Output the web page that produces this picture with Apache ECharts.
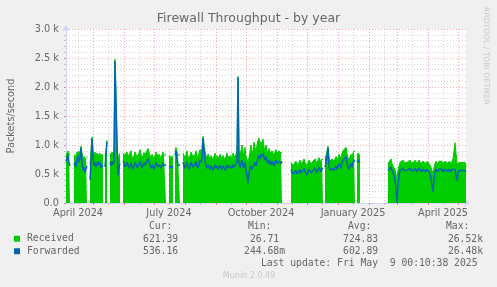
<!DOCTYPE html>
<html><head><meta charset="utf-8">
<script src="https://cdn.jsdelivr.net/npm/echarts@6.0.0/dist/echarts.min.js"></script>
<style>html,body{margin:0;padding:0;background:#F0F0F0}#c{width:497px;height:287px}</style>
</head><body><div id="c"></div>
<script>
// ---- data (one value per day, starting 2024-04-04; null = no data) ----
const startDate = [2024, 3, 4];
const dayCount = 401;
const seriesNames = ['Received', 'Forwarded'];

const received = [
 820,860,900,850,820,null,null,null,840,860,
 800,880,900,860,880,980,860,760,800,720,
 780,800,null,null,650,900,1140,900,820,880,
 800,860,880,820,860,780,840,800,null,800,
 900,1080,null,null,860,820,880,840,900,2480,
 2500,1100,700,820,860,null,null,860,820,790,
 840,880,800,780,830,900,800,760,820,880,
 840,790,820,860,920,840,780,820,870,830,
 800,860,940,880,820,780,840,800,760,820,
 880,860,800,840,820,780,830,880,820,800,
 840,null,null,820,800,840,780,820,null,900,
 960,880,820,800,840,null,null,860,820,780,
 840,900,800,760,820,880,860,800,780,840,
 900,820,780,860,920,880,940,1150,1140,900,
 820,780,840,800,760,820,780,740,800,860,
 780,820,760,780,840,800,760,820,780,740,
 800,860,780,760,820,800,780,860,800,780,
 840,900,2180,900,820,900,1000,880,840,960,
 800,760,700,780,880,1000,860,900,1050,960,
 880,1000,1080,1120,980,1060,1000,1100,960,920,
 1000,900,860,940,880,840,900,860,820,880,
 920,860,840,900,880,860,880,null,null,null,
 null,null,null,null,null,700,680,650,640,680,
 720,660,640,700,740,680,660,720,760,700,
 680,640,700,740,720,680,660,720,700,760,
 720,680,740,780,740,700,760,740,null,760,
 820,900,980,800,720,700,760,740,720,760,
 800,740,780,840,800,760,860,900,880,920,
 960,860,780,740,800,840,780,860,900,880,
 null,820,860,840,820,null,null,null,null,null,
 null,null,null,null,null,null,null,null,null,null,
 null,null,null,null,null,null,null,null,null,null,
 null,null,680,660,700,760,680,640,620,580,
 500,400,560,640,700,680,720,740,700,680,
 720,700,680,720,740,700,680,720,700,740,
 720,680,700,740,720,680,700,720,740,700,
 680,720,700,680,660,620,560,520,600,680,
 720,700,680,720,700,740,720,680,700,720,
 740,700,680,720,700,680,720,760,900,1040,
 860,700,660,700,720,680,700,720,680,700,
 621.39
];

const forwarded = [
 720,780,830,700,640,null,null,null,650,700,
 620,760,820,700,760,950,700,560,620,520,
 600,640,null,null,400,700,1110,800,640,700,
 620,680,720,650,700,600,660,620,null,620,
 850,1060,null,null,700,640,720,660,720,2450,
 2480,1000,480,620,680,null,null,720,680,620,
 660,700,640,600,650,690,620,580,640,700,
 660,610,640,680,720,660,600,640,690,650,
 620,680,760,700,640,600,660,620,580,640,
 700,680,620,660,640,600,650,690,640,620,
 660,null,null,640,620,660,600,640,null,820,
 900,760,640,620,660,null,null,700,640,600,
 660,720,620,580,640,700,680,620,600,660,
 720,640,600,680,740,700,760,1120,1100,720,
 640,600,660,620,580,640,600,560,620,660,
 600,640,580,600,650,620,580,640,600,560,
 620,660,600,580,640,620,600,660,620,600,
 640,700,2170,700,600,680,740,640,600,700,
 560,480,340,520,600,640,580,620,660,700,
 640,720,780,820,760,840,800,860,780,740,
 800,720,680,740,700,660,720,680,640,700,
 740,680,660,720,700,680,720,null,null,null,
 null,null,null,null,null,580,540,500,480,520,
 560,500,480,540,580,520,500,560,600,540,
 520,480,540,580,560,520,500,560,540,600,
 560,520,580,620,580,540,600,580,null,620,
 700,800,950,640,560,540,600,580,560,600,
 640,580,620,680,640,600,700,740,720,760,
 800,700,620,580,640,680,620,700,740,720,
 null,700,740,720,700,null,null,null,null,null,
 null,null,null,null,null,null,null,null,null,null,
 null,null,null,null,null,null,null,null,null,null,
 null,null,560,540,580,620,560,520,480,400,
 200,0.3,300,480,560,540,580,600,560,540,
 580,560,540,580,600,560,540,580,560,600,
 580,540,560,600,580,540,560,580,600,560,
 540,580,560,540,500,420,300,195,400,540,
 580,560,540,580,560,600,580,540,560,580,
 600,560,540,580,560,540,580,560,600,580,
 560,380,520,560,580,540,560,580,540,560,
 536.16
];

// x tick labels (placed mid-month) and y range
const xLabelDates = ['2024-04-16', '2024-07-16', '2024-10-16', '2025-01-16', '2025-04-16'];
const xLabelTexts = ['April 2024', 'July 2024', 'October 2024', 'January 2025', 'April 2025'];
const yMin = 0, yMax = 3000, yStep = 500;

// legend statistics
const statHeaders = ['Cur:', 'Min:', 'Avg:', 'Max:'];
const receivedStats = ['621.39', '26.71', '724.83', '26.52k'];
const forwardedStats = ['536.16', '244.68m', '602.89', '26.48k'];
const lastUpdate = 'Last update: Fri May  9 00:10:38 2025';
const titleText = 'Firewall Throughput - by year';
const yName = 'Packets/second';

// ---- build ----
const cats = [];
const t0 = Date.UTC(startDate[0], startDate[1], startDate[2]);
for (let i = 0; i < dayCount; i++) cats.push(new Date(t0 + i * 86400000).toISOString().slice(0, 10));
const isMonthStart = (i, v) => v.slice(8) === '01';
const isMidMonth = (i, v) => v.slice(8) === '16';
const isLabelDay = (i, v) => xLabelDates.indexOf(v) >= 0;

const FONT_C = '#666666';
const MONO = '9.72px "DejaVu Sans Mono"';
const RED = 'rgba(235,105,105,0.55)';
const GRAY = 'rgba(150,150,150,0.4)';

const headerX = [149, 248, 348, 446];
const colRight = [184, 285, 384, 483];
const padUnit = s => /[a-z]$/i.test(s) ? s : s + '\u00A0';

const graphic = [];
statHeaders.forEach((h, k) => graphic.push({type: 'text', x: headerX[k], y: 226.5, silent: true,
  style: {text: h, fill: FONT_C, font: MONO, align: 'left', verticalAlign: 'middle'}}));
[receivedStats, forwardedStats].forEach((row, r) => row.forEach((s, k) => graphic.push({type: 'text',
  x: colRight[k], y: 239.3 + r * 12.4, silent: true,
  style: {text: padUnit(s), fill: FONT_C, font: MONO, align: 'right', verticalAlign: 'middle'}})));
graphic.push({type: 'text', x: 261, y: 263.5, silent: true,
  style: {text: lastUpdate, fill: FONT_C, font: MONO, align: 'left', verticalAlign: 'middle'}});
graphic.push({type: 'text', x: 249, y: 276, silent: true,
  style: {text: 'Munin 2.0.49', fill: '#C8C8C8', font: '8px "DejaVu Sans"', align: 'center', verticalAlign: 'middle'}});
graphic.push({type: 'text', x: 486, y: 56, rotation: -Math.PI / 2, silent: true,
  style: {text: 'RRDTOOL / TOBI OETIKER', fill: '#C8C8C8', font: '7.6px "DejaVu Sans"', align: 'center', verticalAlign: 'middle'}});

const chart = echarts.init(document.getElementById('c'), null, {renderer: 'canvas'});
chart.setOption({
  animation: false,
  backgroundColor: '#F0F0F0',
  textStyle: {fontFamily: 'DejaVu Sans'},
  title: {text: titleText, left: 'center', top: 12, padding: 0,
    textStyle: {color: FONT_C, fontSize: 12.5, fontWeight: 'normal', fontFamily: 'DejaVu Sans'}},
  grid: {left: 66, right: 31, top: 29, bottom: 84, show: true, backgroundColor: '#FFFFFF',
    borderWidth: 0, containLabel: false, outerBoundsMode: 'none'},
  legend: {show: true, orient: 'vertical', left: 14, top: 233, itemWidth: 6, itemHeight: 6, itemGap: 1,
    icon: 'rect', selectedMode: false, padding: 0, data: seriesNames,
    textStyle: {color: FONT_C, fontSize: 9.72, fontFamily: 'DejaVu Sans Mono', lineHeight: 11.5, padding: [0, 0, 0, 2]}},
  xAxis: [{
    type: 'category', data: cats, boundaryGap: false, position: 'bottom',
    axisLine: {show: true, lineStyle: {color: '#CFD6F8', width: 1}, symbol: ['none', 'arrow'], symbolSize: [6, 6], symbolOffset: [0, 4]},
    axisTick: {show: true, interval: isMonthStart, length: 2, lineStyle: {color: 'rgba(235,105,105,0.8)'}},
    axisLabel: {show: true, interval: isLabelDay, color: FONT_C, fontSize: 9.72, fontFamily: 'DejaVu Sans', margin: 5,
      formatter: v => { const k = xLabelDates.indexOf(v); return k >= 0 ? xLabelTexts[k] : ''; }},
    splitLine: {show: true, interval: isMonthStart, lineStyle: {color: RED, type: [1, 2], width: 1}}
  }, {
    type: 'category', data: cats, boundaryGap: false, position: 'bottom',
    axisLine: {show: false},
    axisTick: {show: true, interval: isMidMonth, length: 2, lineStyle: {color: '#C0C0C0'}},
    axisLabel: {show: false},
    splitLine: {show: true, interval: isMidMonth, lineStyle: {color: GRAY, type: [1, 2], width: 1}}
  }],
  yAxis: {
    type: 'value', min: yMin, max: yMax, interval: yStep,
    name: yName, nameLocation: 'middle', nameGap: 50, nameRotate: 90,
    nameTextStyle: {color: FONT_C, fontSize: 9.72, fontFamily: 'DejaVu Sans'},
    axisLine: {show: true, lineStyle: {color: '#CFD6F8', width: 1}, symbol: ['none', 'arrow'], symbolSize: [6, 6], symbolOffset: [0, 4]},
    axisTick: {show: true, length: 2, lineStyle: {color: 'rgba(235,105,105,0.8)'}},
    minorTick: {show: true, splitNumber: 5, length: 2, lineStyle: {color: '#C0C0C0'}},
    axisLabel: {color: FONT_C, fontSize: 9.72, fontFamily: 'DejaVu Sans', margin: 7,
      formatter: v => v === 0 ? '0.0' : (v / 1000).toFixed(1) + ' k'},
    splitLine: {show: true, lineStyle: {color: RED, type: [1, 2], width: 1}},
    minorSplitLine: {show: true, lineStyle: {color: GRAY, type: [1, 2], width: 1}}
  },
  series: [{
    name: seriesNames[0], type: 'line', data: received, xAxisIndex: 0, symbol: 'none', showSymbol: false,
    connectNulls: false, silent: true, z: 2,
    itemStyle: {color: '#00CC00'}, lineStyle: {width: 1, color: '#00CC00'},
    areaStyle: {color: '#00CC00', opacity: 1}
  }, {
    name: seriesNames[1], type: 'line', data: forwarded, xAxisIndex: 0, symbol: 'none', showSymbol: false,
    connectNulls: false, silent: true, z: 3,
    itemStyle: {color: '#0066B3'}, lineStyle: {width: 1.5, color: '#0066B3'}
  }],
  graphic: graphic
});
</script>
</body></html>
